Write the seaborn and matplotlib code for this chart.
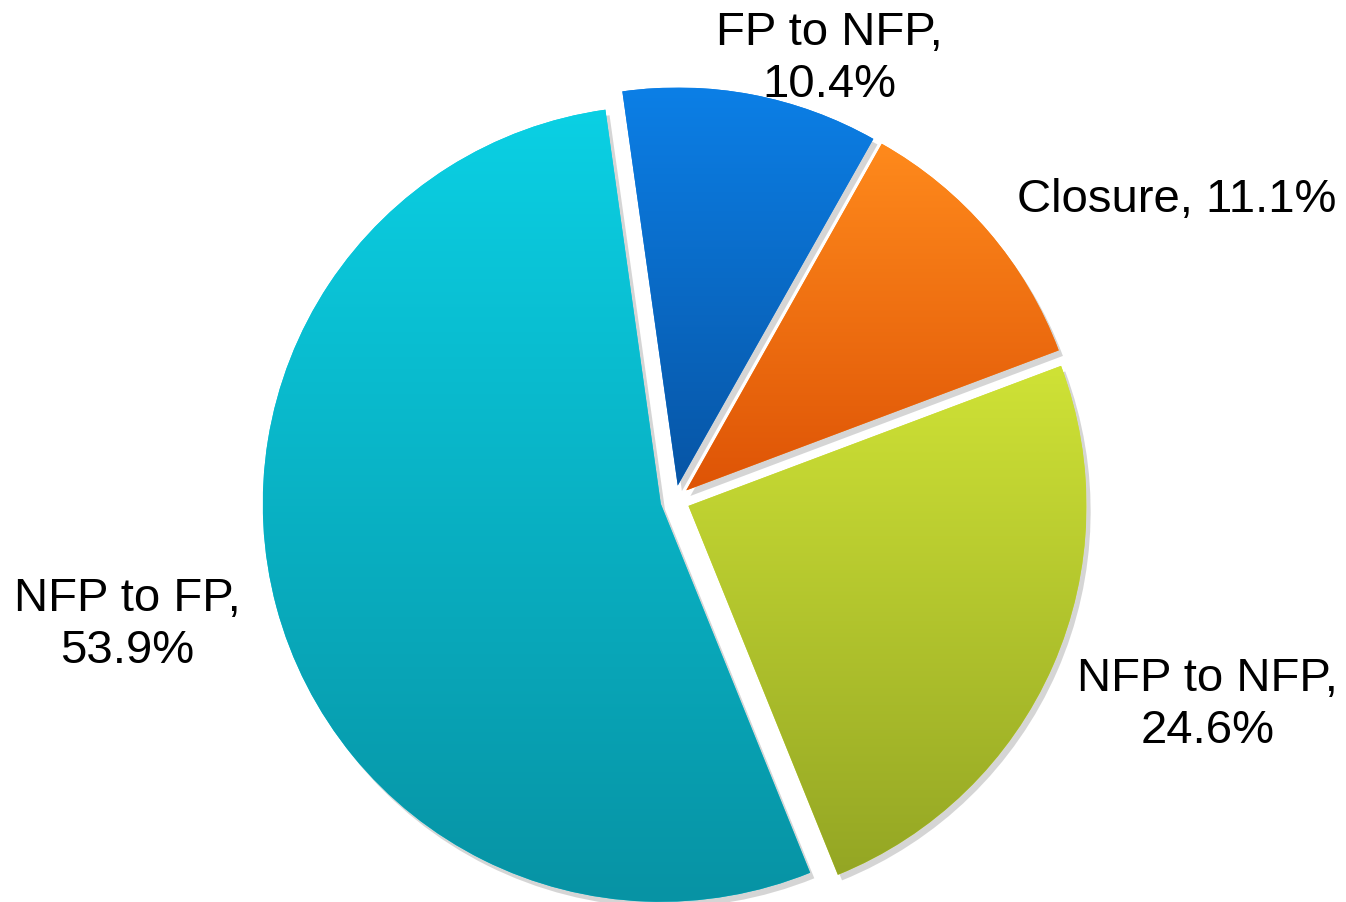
import numpy as np
import seaborn as sns
import matplotlib
matplotlib.use("Agg")
import matplotlib.pyplot as plt
import matplotlib.patheffects as pe
from matplotlib.colors import LinearSegmentedColormap

# data
categories = ["FP to NFP", "Closure", "NFP to NFP", "NFP to FP"]
shares = [10.4, 11.1, 24.6, 53.9]
pct_labels = ["10.4%", "11.1%", "24.6%", "53.9%"]

# styling (light top -> dark bottom, like the office bevel fill)
top_colors = ["#0c7fe6", "#ff8a1c", "#cfe236", "#0bd0e4"]
bottom_colors = ["#0755a5", "#de5406", "#94a624", "#0793a4"]
label_xy = [(0.389, 1.108), (1.261, 0.754), (1.337, -0.515), (-1.377, -0.314)]
label_text = ["FP to NFP,\n10.4%", "Closure, 11.1%", "NFP to NFP,\n24.6%", "NFP to FP,\n53.9%"]

sns.set_theme(style="white")
plt.rcParams['font.family'] = ['Liberation Sans', 'DejaVu Sans']

fig = plt.figure(figsize=(13.46, 9.02), dpi=100)
ax = fig.add_axes([0, 0, 1, 1])

wedges, _ = ax.pie(
    shares, startangle=98, counterclock=False, radius=1.0,
    explode=[0.037] * len(shares), colors=top_colors,
    wedgeprops={'linewidth': 0})

for w, c_top, c_bot in zip(wedges, top_colors, bottom_colors):
    w.set_path_effects([pe.SimplePatchShadow(offset=(3, -4), shadow_rgbFace='k', alpha=0.18),
                        pe.Normal()])
    cmap = LinearSegmentedColormap.from_list('g', [c_bot, c_top])
    grad = np.linspace(0, 1, 256).reshape(-1, 1)
    bb = w.get_path().get_extents(w.get_patch_transform())
    im = ax.imshow(grad, cmap=cmap, origin='lower', aspect='auto',
                   extent=[bb.x0, bb.x1, bb.y0, bb.y1], zorder=w.get_zorder() + 0.1)
    im.set_clip_path(w)

for (x, y), txt in zip(label_xy, label_text):
    ax.text(x, y, txt, ha='center', va='center', fontsize=34,
            color='black', linespacing=1.22)

ax.set_xlim(-675 / 398, (1346 - 675) / 398)
ax.set_ylim(-(902 - 500) / 398, 500 / 398)
ax.set_aspect('auto')
ax.axis('off')

fig.savefig("out.png", dpi=100, facecolor='white')
